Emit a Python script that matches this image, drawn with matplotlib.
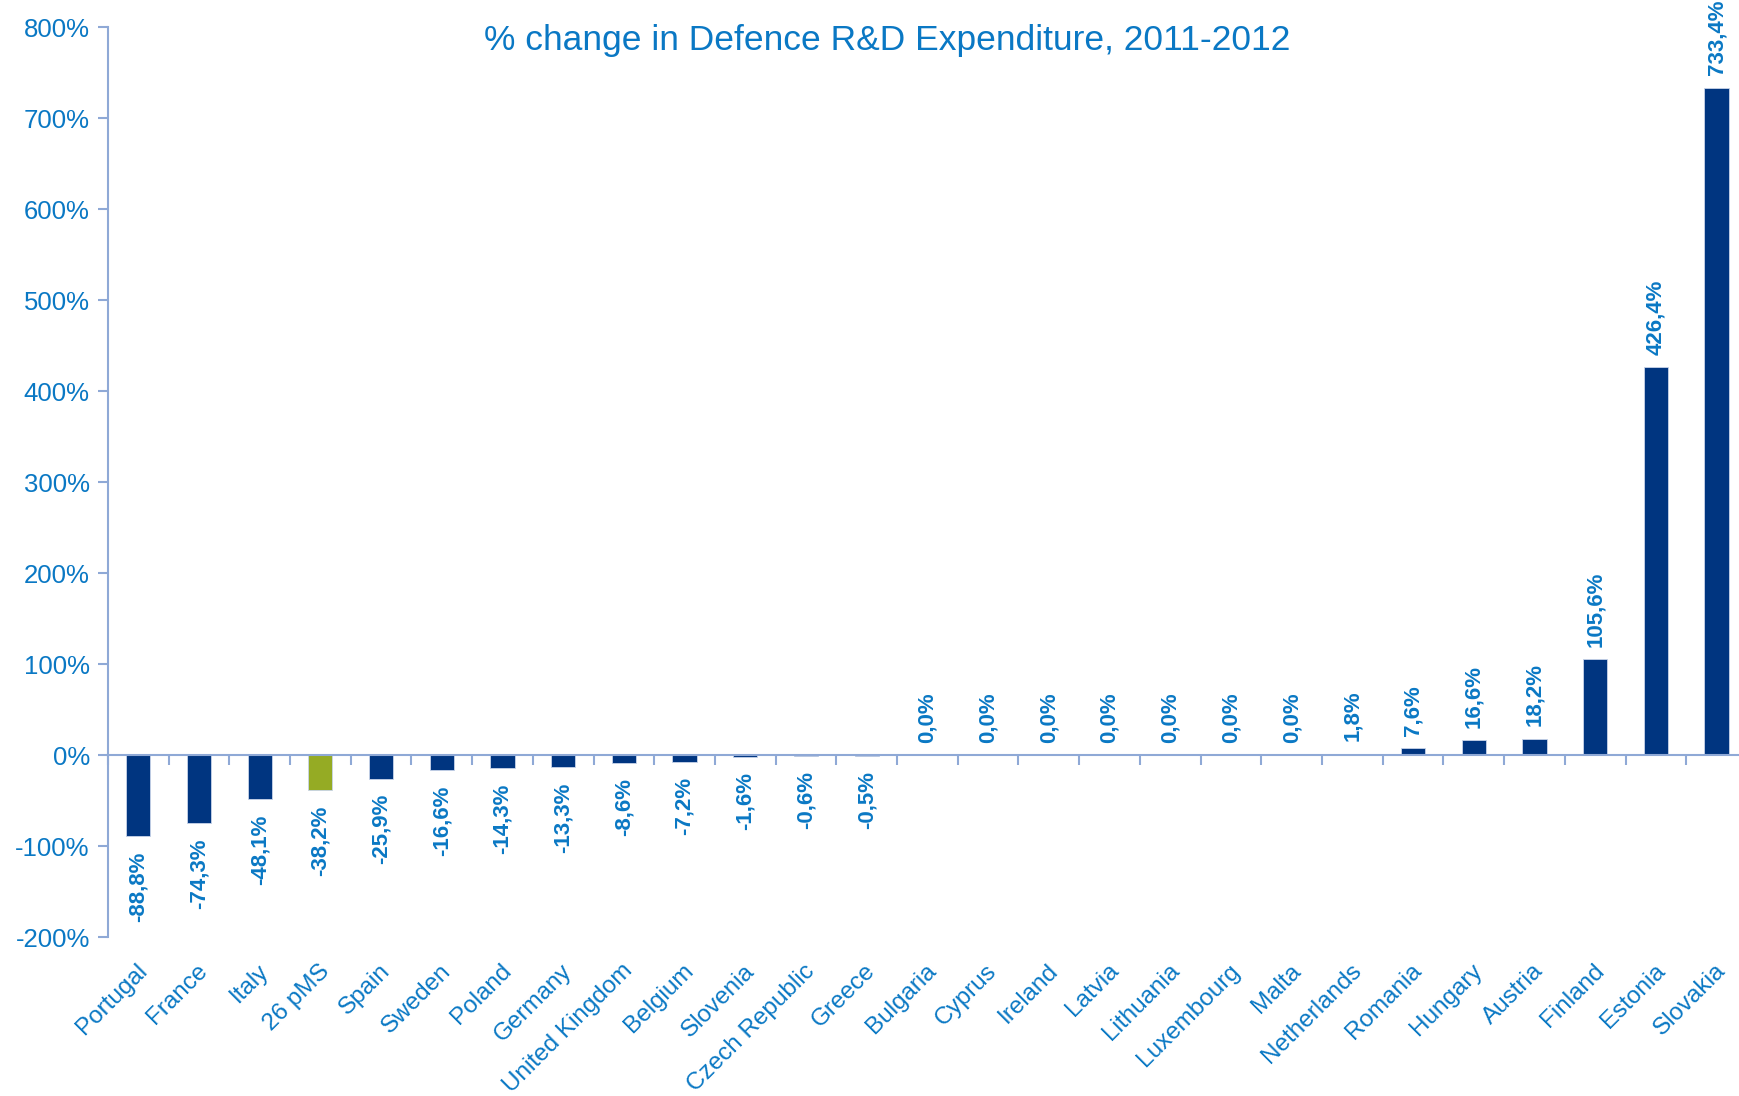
import numpy as np
import matplotlib
matplotlib.use('Agg')
import matplotlib.pyplot as plt

countries = ['Portugal', 'France', 'Italy', '26 pMS', 'Spain', 'Sweden', 'Poland',
             'Germany', 'United Kingdom', 'Belgium', 'Slovenia', 'Czech Republic',
             'Greece', 'Bulgaria', 'Cyprus', 'Ireland', 'Latvia', 'Lithuania',
             'Luxembourg', 'Malta', 'Netherlands', 'Romania', 'Hungary', 'Austria',
             'Finland', 'Estonia', 'Slovakia']
change = [-88.8, -74.3, -48.1, -38.2, -25.9, -16.6, -14.3, -13.3, -8.6, -7.2, -1.6,
          -0.6, -0.5, 0.0, 0.0, 0.0, 0.0, 0.0, 0.0, 0.0, 1.8, 7.6, 16.6, 18.2,
          105.6, 426.4, 733.4]
yticks = [-200, -100, 0, 100, 200, 300, 400, 500, 600, 700, 800]

navy = '#003580'
green = '#95ab24'
txt = '#0a78c4'
axcol = '#8fa9d6'

plt.rcParams['font.family'] = ['Liberation Sans', 'DejaVu Sans']

fig = plt.figure(figsize=(17.4, 10.96), dpi=100)
# the last category runs slightly past the right edge, as in the original
ax = fig.add_axes([0.062, 0.145, 0.942, 0.83])

x = np.arange(len(countries))
colors = [green if c == '26 pMS' else navy for c in countries]
ax.bar(x, change, width=0.4, color=colors, edgecolor='#c8d4ea', linewidth=0.6, zorder=2)

ax.set_xlim(-0.5, len(countries) - 0.5)
ax.set_ylim(-200, 800)
ax.set_yticks(yticks)
ax.set_yticklabels([f'{t}%' for t in yticks])

# axis styling
for s in ['top', 'right']:
    ax.spines[s].set_visible(False)
ax.spines['bottom'].set_position(('data', 0))
ax.spines['bottom'].set_color(axcol)
ax.spines['left'].set_color(axcol)
ax.spines['bottom'].set_linewidth(1.5)
ax.spines['left'].set_linewidth(1.5)
ax.spines['bottom'].set_zorder(3)
ax.tick_params(axis='y', colors=axcol, labelcolor=txt, labelsize=18.5, length=7, width=1.5, pad=6)
ax.set_xticks(np.arange(len(countries) + 1) - 0.5)
ax.set_xticklabels([])
ax.tick_params(axis='x', colors=axcol, direction='out', length=7, width=1.5)

# category labels
for i, name in enumerate(countries):
    ax.annotate(name, xy=(i, 0), xycoords=('data', 'axes fraction'),
                xytext=(4, -22), textcoords='offset points',
                rotation=45, rotation_mode='anchor', ha='right', va='center',
                fontsize=17.5, color=txt)

# value labels
for i, v in enumerate(change):
    lab = f'{v:.1f}%'.replace('.', ',')
    if v < 0:
        ax.annotate(lab, xy=(i, v), xytext=(0, -11), textcoords='offset points',
                    rotation=90, ha='center', va='top', fontsize=16,
                    fontweight='bold', color=txt)
    else:
        ax.annotate(lab, xy=(i, v), xytext=(0, 9), textcoords='offset points',
                    rotation=90, ha='center', va='bottom', fontsize=16,
                    fontweight='bold', color=txt)

fig.text(0.51, 0.963, '% change in Defence R&D Expenditure, 2011-2012',
         ha='center', va='center', fontsize=25.5, color=txt)

fig.savefig('out.png', dpi=100)
